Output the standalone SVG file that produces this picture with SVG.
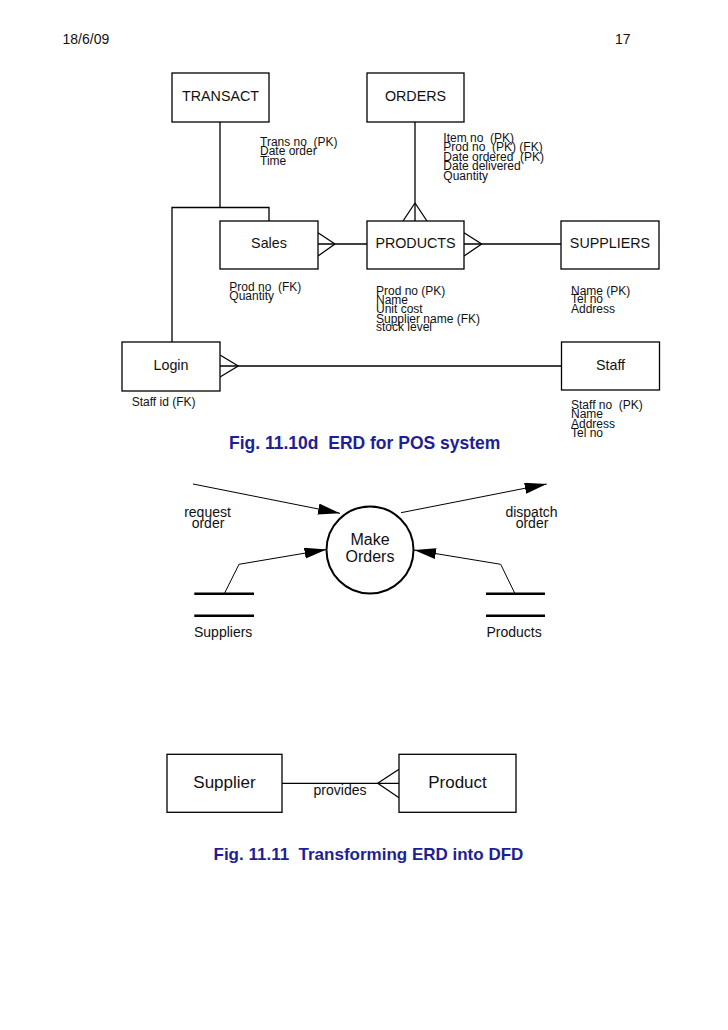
<svg xmlns="http://www.w3.org/2000/svg" width="728" height="1030" viewBox="0 0 728 1030">
<defs>
<style>
text{font-family:"Liberation Sans",Arial,sans-serif;fill:#111}
.hdr{font-size:14px}
.ent{font-size:14.3px;text-anchor:middle}
.att{font-size:12px;white-space:pre}
.box{fill:#fff;stroke:#000;stroke-width:1.3}
.ln{fill:none;stroke:#000;stroke-width:1.3}
.fl{fill:none;stroke:#000;stroke-width:1}
.st{fill:none;stroke:#000;stroke-width:2.6}
.cap{font-weight:bold;fill:#1e1e96;white-space:pre}
.lbl{font-size:14px;text-anchor:middle}
.big{font-size:17px;text-anchor:middle}
</style>
<marker id="ah" markerUnits="userSpaceOnUse" markerWidth="23" markerHeight="12" refX="22" refY="5.5" orient="auto">
<path d="M0,0 L22,5.5 L0,11 z" fill="#000"/>
</marker>
</defs>
<rect width="728" height="1030" fill="#fff"/>
<text class="hdr" x="62.5" y="44">18/6/09</text>
<text class="hdr" x="615" y="44">17</text>

<g id="connectors">
<polyline class="ln" points="220,122 220,207.5"/>
<polyline class="ln" points="172,342 172,207.5 269,207.5 269,221"/>
<line class="ln" x1="415" y1="122" x2="415" y2="221"/>
<line class="ln" x1="403" y1="221" x2="415" y2="203"/>
<line class="ln" x1="427" y1="221" x2="415" y2="203"/>
<line class="ln" x1="318" y1="244" x2="367" y2="244"/>
<line class="ln" x1="318" y1="232.7" x2="335" y2="244"/>
<line class="ln" x1="318" y1="256" x2="335" y2="244"/>
<line class="ln" x1="464" y1="244" x2="561" y2="244"/>
<line class="ln" x1="464" y1="232.7" x2="481.7" y2="244"/>
<line class="ln" x1="464" y1="256" x2="481.7" y2="244"/>
<line class="ln" x1="220" y1="366" x2="561.5" y2="366"/>
<line class="ln" x1="220" y1="355" x2="238.3" y2="366"/>
<line class="ln" x1="220" y1="377" x2="238.3" y2="366"/>
<line class="fl" x1="193" y1="484" x2="340" y2="513.3" marker-end="url(#ah)"/>
<line class="fl" x1="401" y1="512.7" x2="546.7" y2="484" marker-end="url(#ah)"/>
<polyline class="fl" points="224.3,593.7 239,564.3 326.5,549.5" marker-end="url(#ah)"/>
<polyline class="fl" points="515,593.7 500.7,564.3 414,550" marker-end="url(#ah)"/>
<line class="ln" x1="282" y1="783.3" x2="399" y2="783.3"/>
<line class="ln" x1="377.7" y1="783.3" x2="399" y2="769.3"/>
<line class="ln" x1="377.7" y1="783.3" x2="399" y2="797.7"/>
</g>

<g id="transact">
<rect class="box" x="172" y="73" width="97" height="49"/>
<text class="ent" x="220.5" y="101">TRANSACT</text>
<text class="att" x="260" y="145.5">Trans no  (PK)<tspan x="260" dy="9.5">Date order</tspan><tspan x="260" dy="9.5">Time</tspan></text>
</g>
<g id="orders">
<rect class="box" x="367" y="73" width="97" height="49"/>
<text class="ent" x="415.5" y="101">ORDERS</text>
<text class="att" x="443.3" y="141.5">Item no  (PK)<tspan x="443.3" dy="9.6">Prod no  (PK) (FK)</tspan><tspan x="443.3" dy="9.6">Date ordered  (PK)</tspan><tspan x="443.3" dy="9.6">Date delivered</tspan><tspan x="443.3" dy="9.6">Quantity</tspan></text>
</g>
<g id="sales">
<rect class="box" x="220" y="221" width="98" height="48"/>
<text class="ent" x="269" y="247.5">Sales</text>
<text class="att" x="229.3" y="290.7">Prod no  (FK)<tspan x="229.3" dy="9">Quantity</tspan></text>
</g>
<g id="products">
<rect class="box" x="367" y="221" width="97" height="48"/>
<text class="ent" x="415.5" y="247.5">PRODUCTS</text>
<text class="att" x="376" y="294.5">Prod no (PK)<tspan x="376" dy="9.2">Name</tspan><tspan x="376" dy="9.4">Unit cost</tspan><tspan x="376" dy="9.4">Supplier name (FK)</tspan><tspan x="376" dy="8.8">stock level</tspan></text>
</g>
<g id="suppliers">
<rect class="box" x="561" y="221" width="98" height="48"/>
<text class="ent" x="610" y="247.5">SUPPLIERS</text>
<text class="att" x="571" y="294.5">Name (PK)<tspan x="571" dy="8.8">Tel no</tspan><tspan x="571" dy="9.5">Address</tspan></text>
</g>
<g id="login">
<rect class="box" x="122" y="342" width="98" height="49"/>
<text class="ent" x="171" y="369.5">Login</text>
<text class="att" x="131.7" y="406">Staff id (FK)</text>
</g>
<g id="staff">
<rect class="box" x="561.5" y="342" width="98" height="48"/>
<text class="ent" x="610.5" y="369.5">Staff</text>
<text class="att" x="571" y="409.3">Staff no  (PK)<tspan x="571" dy="8.6">Name</tspan><tspan x="571" dy="9.6">Address</tspan><tspan x="571" dy="9.4">Tel no</tspan></text>
</g>

<text class="cap" x="229" y="448.5" style="font-size:17.5px">Fig. 11.10d  ERD for POS system</text>

<g id="make-orders">
<circle cx="370" cy="550" r="43.5" fill="#fff" stroke="#000" stroke-width="2"/>
<text x="370" y="545" style="font-size:16px;text-anchor:middle">Make</text>
<text x="370" y="561.7" style="font-size:16px;text-anchor:middle">Orders</text>
</g>
<g id="request-order">
<text class="lbl" x="207.5" y="517.3">request</text>
<text class="lbl" x="208" y="528.3">order</text>
</g>
<g id="dispatch-order">
<text class="lbl" x="531.5" y="517.3">dispatch</text>
<text class="lbl" x="532" y="528.3">order</text>
</g>
<g id="suppliers-store">
<line class="st" x1="194.3" y1="593.7" x2="254" y2="593.7"/>
<line class="st" x1="194.3" y1="615.7" x2="254" y2="615.7"/>
<text x="194" y="636.5" style="font-size:14px">Suppliers</text>
</g>
<g id="products-store">
<line class="st" x1="486" y1="593.7" x2="545" y2="593.7"/>
<line class="st" x1="486" y1="615.7" x2="545" y2="615.7"/>
<text x="486.5" y="636.5" style="font-size:14px">Products</text>
</g>

<g id="supplier">
<rect class="box" x="167" y="754.3" width="115" height="58"/>
<text class="big" x="224.5" y="787.5">Supplier</text>
</g>
<g id="product">
<rect class="box" x="399" y="754.3" width="117" height="58"/>
<text class="big" x="457.5" y="787.5">Product</text>
</g>
<text x="340" y="794.5" style="font-size:14px;text-anchor:middle">provides</text>

<text class="cap" x="213.5" y="860" style="font-size:17px">Fig. 11.11  Transforming ERD into DFD</text>
</svg>
